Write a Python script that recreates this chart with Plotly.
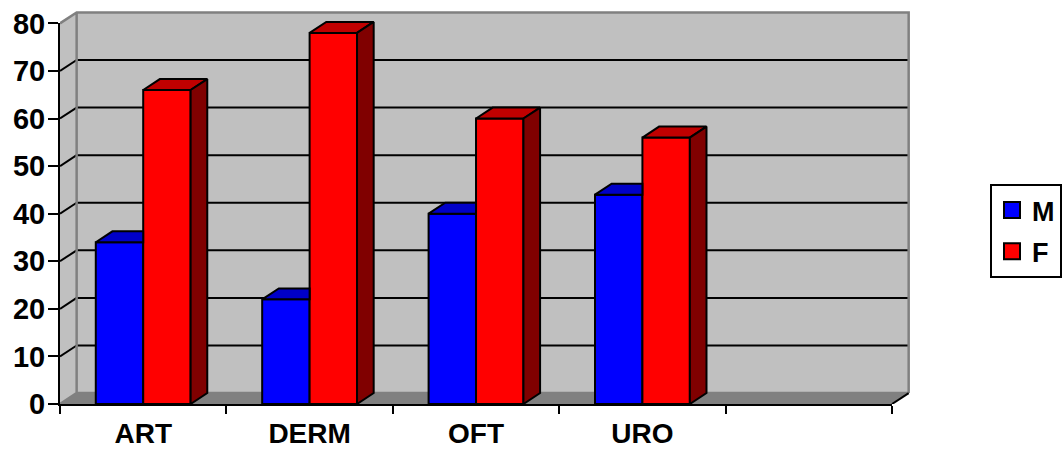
import plotly.graph_objects as go

# ---- data -------------------------------------------------------------
categories = ["ART", "DERM", "OFT", "URO", ""]
male = [34, 22, 40, 44, None]
female = [66, 78, 60, 56, None]
y_ticks = [0, 10, 20, 30, 40, 50, 60, 70, 80]

# ---- styling / geometry ----------------------------------------------
FONT = "Liberation Sans, Arial, sans-serif"
BLUE, BLUE_TOP = "#0000FF", "#0000C8"
RED, RED_TOP, RED_SIDE = "#FF0000", "#C00000", "#800000"
WALL, FLOOR, EDGE = "#C0C0C0", "#808080", "#808080"

BAR_W = 0.285          # width of one bar in category units
DX, DY = 0.1, 2.3      # depth offset of the 3-D box (x units, value units)
Y_TOP = y_ticks[-1]
n = len(categories)
x_lo, x_hi = -0.5, n - 0.5
X_RANGE = [x_lo, x_hi + DX + 0.02]
Y_RANGE = [0, Y_TOP + DY + 0.3]

fig = go.Figure()

# ---- bars (front faces) ----------------------------------------------
idx = list(range(n))
fig.add_trace(go.Bar(x=idx, y=male, width=BAR_W, offset=-BAR_W, name="M",
                     legendgroup="M", showlegend=False,
                     marker=dict(color=BLUE, line=dict(color="black", width=2))))
fig.add_trace(go.Bar(x=idx, y=female, width=BAR_W, offset=0, name="F",
                     legendgroup="F", showlegend=False,
                     marker=dict(color=RED, line=dict(color="black", width=2))))


def face(xs, ys, color, group):
    fig.add_trace(go.Scatter(x=xs + [xs[0]], y=ys + [ys[0]], mode="lines",
                             fill="toself", fillcolor=color,
                             line=dict(color="black", width=2),
                             hoverinfo="skip", showlegend=False,
                             legendgroup=group))


# ---- 3-D top and side faces ------------------------------------------
for i, (m, f) in enumerate(zip(male, female)):
    if m is not None:
        x0 = i - BAR_W
        face([x0, x0 + DX, i, i], [m, m + DY, m + DY, m], BLUE_TOP, "M")
    if f is not None:
        x1 = i + BAR_W
        face([i, i + DX, x1 + DX, x1], [f, f + DY, f + DY, f], RED_TOP, "F")
        face([x1, x1 + DX, x1 + DX, x1], [0, DY, f + DY, f], RED_SIDE, "F")

# ---- legend entries ---------------------------------------------------
for name, col in [("M", BLUE), ("F", RED)]:
    fig.add_trace(go.Scatter(x=[None], y=[None], mode="markers", name=name,
                             legendgroup=name,
                             marker=dict(symbol="square", size=18, color=col,
                                         line=dict(color="black", width=2))))

# empty trace so the front-plane axes (x2 / y2) get drawn
fig.add_trace(go.Scatter(x=[None], y=[None], xaxis="x2", yaxis="y2",
                         showlegend=False, hoverinfo="skip"))

# ---- walls, floor and gridlines --------------------------------------
shapes = []
below = dict(xref="x", yref="y", layer="below")
shapes.append(dict(type="rect", x0=x_lo + DX, x1=x_hi + DX, y0=DY, y1=Y_TOP + DY,
                   fillcolor=WALL, line=dict(width=0), **below))
shapes.append(dict(type="path",
                   path=f"M{x_lo},0 L{x_lo + DX},{DY} L{x_lo + DX},{Y_TOP + DY} L{x_lo},{Y_TOP} Z",
                   fillcolor=WALL, line=dict(width=0), **below))
shapes.append(dict(type="path",
                   path=f"M{x_lo},0 L{x_hi},0 L{x_hi + DX},{DY} L{x_lo + DX},{DY} Z",
                   fillcolor=FLOOR, line=dict(width=0), **below))
for v in y_ticks[1:-1]:
    shapes.append(dict(type="line", x0=x_lo + DX, x1=x_hi + DX, y0=v + DY, y1=v + DY,
                       line=dict(color="black", width=2), **below))
    shapes.append(dict(type="line", x0=x_lo, x1=x_lo + DX, y0=v, y1=v + DY,
                       line=dict(color="black", width=2), **below))
# wall edges
shapes.append(dict(type="path",
                   path=(f"M{x_lo},0 L{x_lo + DX},{DY} L{x_hi + DX},{DY} "
                         f"M{x_lo + DX},{DY} L{x_lo + DX},{Y_TOP + DY} "
                         f"M{x_lo},{Y_TOP} L{x_lo + DX},{Y_TOP + DY} "
                         f"L{x_hi + DX},{Y_TOP + DY} L{x_hi + DX},{DY}"),
                   line=dict(color=EDGE, width=2.5), **below))
shapes.append(dict(type="line", x0=x_hi, x1=x_hi + DX, y0=0, y1=DY,
                   line=dict(color="black", width=2), xref="x", yref="y",
                   layer="above"))

tick_font = dict(family=FONT, color="black", weight="bold")

fig.update_layout(
    width=1064, height=450,
    margin=dict(l=60, r=1064 - 60 - 852, t=11, b=46, autoexpand=False),
    paper_bgcolor="white", plot_bgcolor="rgba(0,0,0,0)",
    font=dict(family=FONT, color="black"),
    barmode="overlay",
    shapes=shapes,
    xaxis=dict(range=X_RANGE, visible=False, fixedrange=True),
    yaxis=dict(range=Y_RANGE, visible=False, fixedrange=True),
    # front-plane axes
    xaxis2=dict(domain=[0, (x_hi - x_lo) / (X_RANGE[1] - X_RANGE[0])],
                range=[x_lo, x_hi], anchor="y",
                tickmode="array", tickvals=idx, ticktext=categories,
                ticks="outside", ticklen=0, ticklabelstandoff=3,
                tickfont=dict(size=28, **tick_font),
                minor=dict(tickmode="array",
                           tickvals=[k - 0.5 for k in range(n + 1)],
                           ticks="outside", ticklen=8, tickwidth=2,
                           tickcolor="black"),
                showline=True, linecolor="black", linewidth=2,
                showgrid=False, zeroline=False, fixedrange=True),
    yaxis2=dict(domain=[0, Y_TOP / Y_RANGE[1]], range=[0, Y_TOP], anchor="x",
                tickmode="array", tickvals=y_ticks,
                ticks="outside", ticklen=10, tickwidth=2, tickcolor="black",
                ticklabelstandoff=-3,
                tickfont=dict(size=29, **tick_font),
                showline=True, linecolor="black", linewidth=2,
                showgrid=False, zeroline=False, fixedrange=True),
    legend=dict(x=(990 - 60) / 852, y=(404 - 184) / 393,
                xanchor="left", yanchor="top",
                bgcolor="white", bordercolor="black", borderwidth=2,
                itemsizing="trace", tracegroupgap=3,
                font=dict(size=27, family=FONT, color="black", weight="bold")),
)

fig.write_html("out.html")
